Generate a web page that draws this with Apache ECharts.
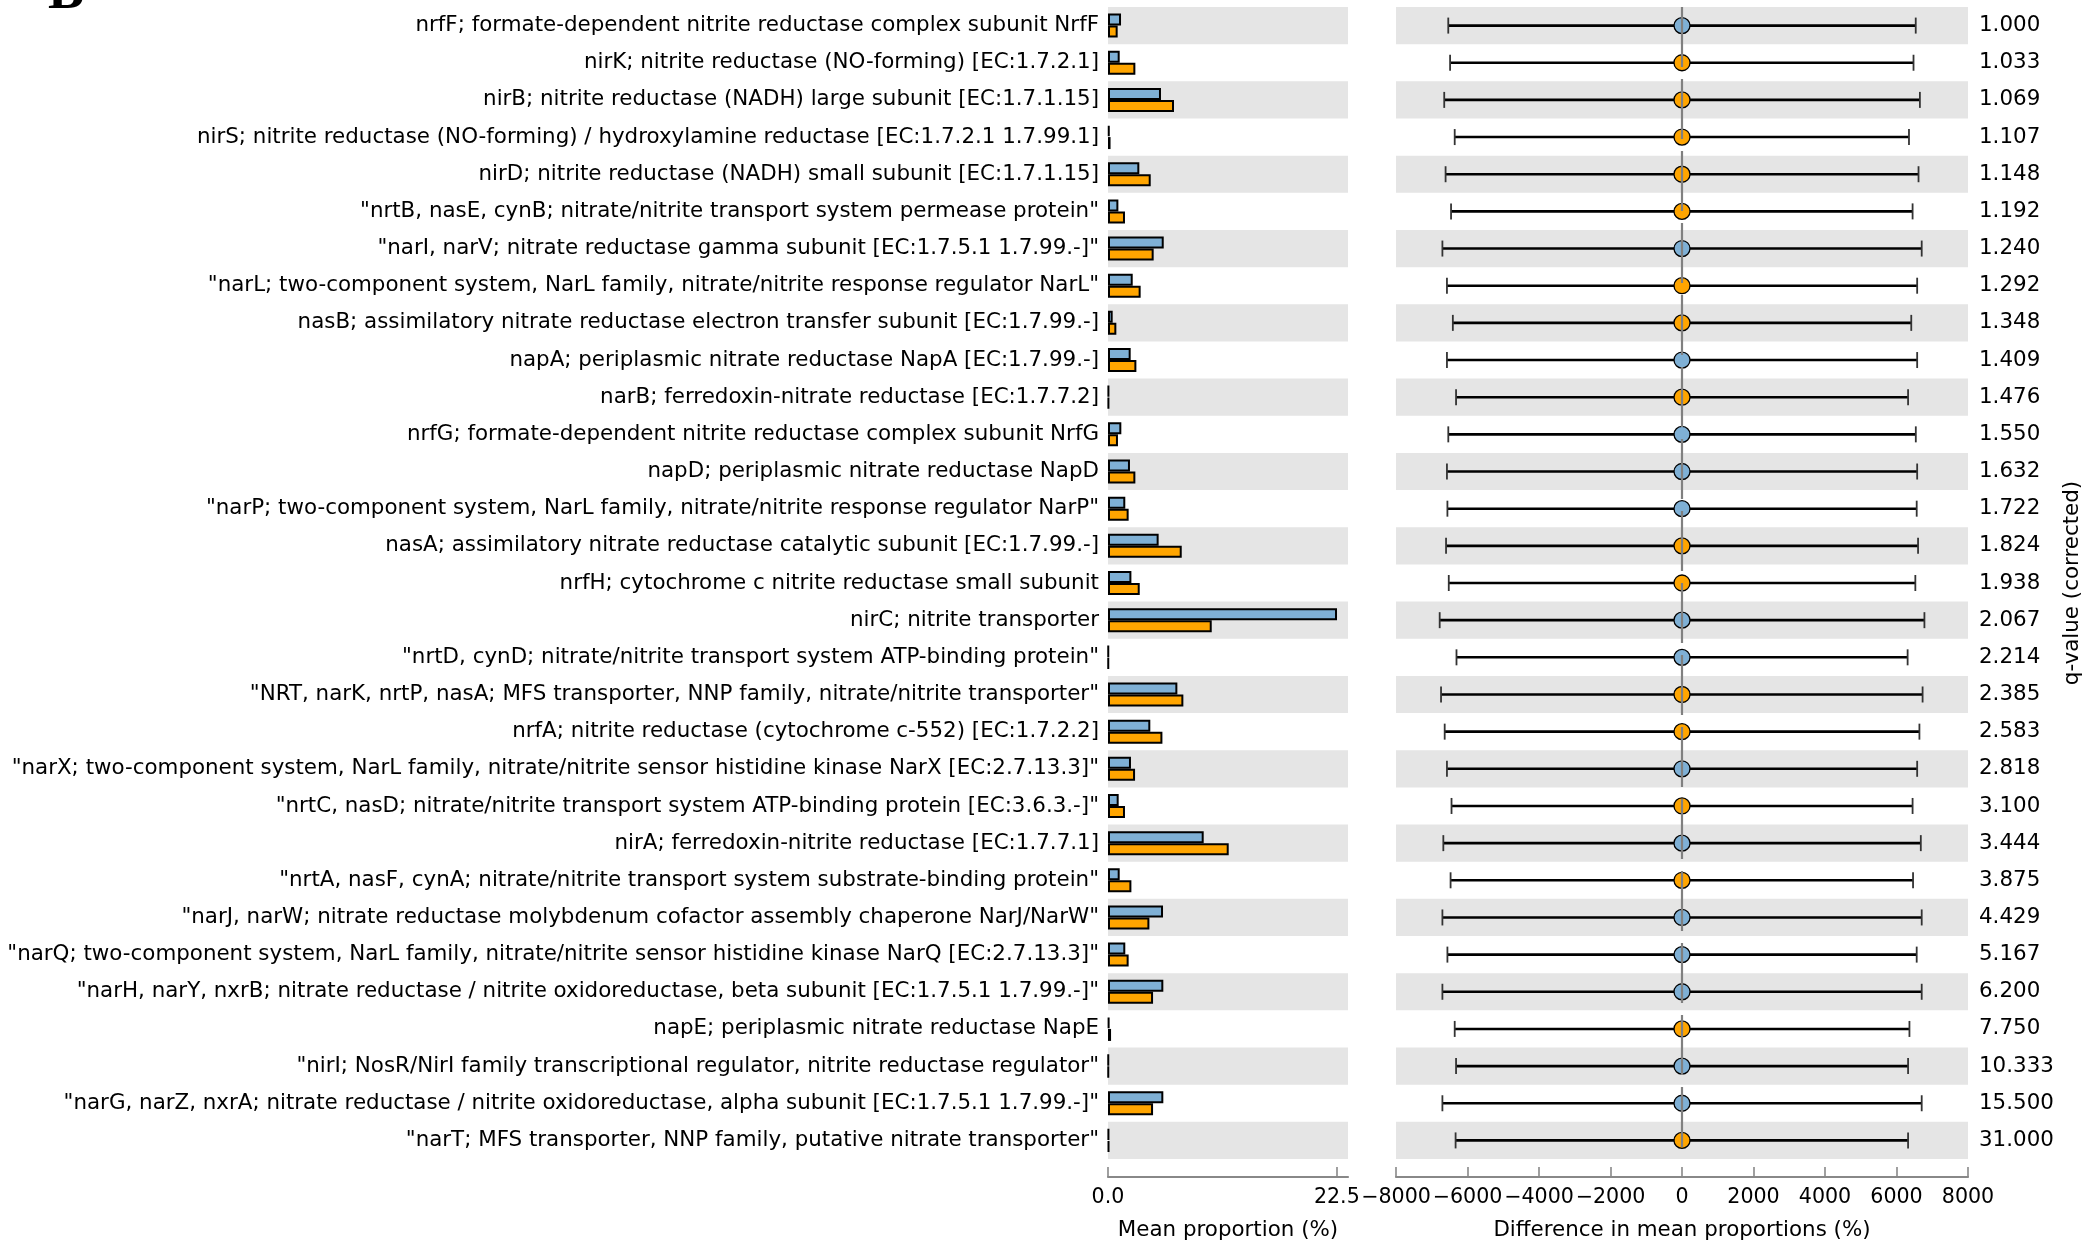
<!DOCTYPE html>
<html><head><meta charset="utf-8">
<script src="https://cdn.jsdelivr.net/npm/echarts@6/dist/echarts.min.js"></script>
<style>html,body{margin:0;padding:0;background:#fff}#c{width:2093px;height:1246px}</style>
</head><body><div id="c"></div>
<script>
const categories = [
  'nrfF; formate-dependent nitrite reductase complex subunit NrfF',
  'nirK; nitrite reductase (NO-forming) [EC:1.7.2.1]',
  'nirB; nitrite reductase (NADH) large subunit [EC:1.7.1.15]',
  'nirS; nitrite reductase (NO-forming) / hydroxylamine reductase [EC:1.7.2.1 1.7.99.1]',
  'nirD; nitrite reductase (NADH) small subunit [EC:1.7.1.15]',
  '"nrtB, nasE, cynB; nitrate/nitrite transport system permease protein"',
  '"narI, narV; nitrate reductase gamma subunit [EC:1.7.5.1 1.7.99.-]"',
  '"narL; two-component system, NarL family, nitrate/nitrite response regulator NarL"',
  'nasB; assimilatory nitrate reductase electron transfer subunit [EC:1.7.99.-]',
  'napA; periplasmic nitrate reductase NapA [EC:1.7.99.-]',
  'narB; ferredoxin-nitrate reductase [EC:1.7.7.2]',
  'nrfG; formate-dependent nitrite reductase complex subunit NrfG',
  'napD; periplasmic nitrate reductase NapD',
  '"narP; two-component system, NarL family, nitrate/nitrite response regulator NarP"',
  'nasA; assimilatory nitrate reductase catalytic subunit [EC:1.7.99.-]',
  'nrfH; cytochrome c nitrite reductase small subunit',
  'nirC; nitrite transporter',
  '"nrtD, cynD; nitrate/nitrite transport system ATP-binding protein"',
  '"NRT, narK, nrtP, nasA; MFS transporter, NNP family, nitrate/nitrite transporter"',
  'nrfA; nitrite reductase (cytochrome c-552) [EC:1.7.2.2]',
  '"narX; two-component system, NarL family, nitrate/nitrite sensor histidine kinase NarX [EC:2.7.13.3]"',
  '"nrtC, nasD; nitrate/nitrite transport system ATP-binding protein [EC:3.6.3.-]"',
  'nirA; ferredoxin-nitrite reductase [EC:1.7.7.1]',
  '"nrtA, nasF, cynA; nitrate/nitrite transport system substrate-binding protein"',
  '"narJ, narW; nitrate reductase molybdenum cofactor assembly chaperone NarJ/NarW"',
  '"narQ; two-component system, NarL family, nitrate/nitrite sensor histidine kinase NarQ [EC:2.7.13.3]"',
  '"narH, narY, nxrB; nitrate reductase / nitrite oxidoreductase, beta subunit [EC:1.7.5.1 1.7.99.-]"',
  'napE; periplasmic nitrate reductase NapE',
  '"nirI; NosR/NirI family transcriptional regulator, nitrite reductase regulator"',
  '"narG, narZ, nxrA; nitrate reductase / nitrite oxidoreductase, alpha subunit [EC:1.7.5.1 1.7.99.-]"',
  '"narT; MFS transporter, NNP family, putative nitrate transporter"'
];
const qValues = ['1.000','1.033','1.069','1.107','1.148','1.192','1.240','1.292','1.348','1.409','1.476',
  '1.550','1.632','1.722','1.824','1.938','2.067','2.214','2.385','2.583','2.818','3.100',
  '3.444','3.875','4.429','5.167','6.200','7.750','10.333','15.500','31.000'];
// mean proportion (%) group 1 (blue) and group 2 (orange)
const group1Mean = [1.28,1.15,5.21,0.15,3.08,1.02,5.48,2.43,0.46,2.23,0.08,
  1.31,2.16,1.70,4.98,2.30,22.52,0.05,6.82,4.16,2.26,1.05,
  9.41,1.15,5.41,1.70,5.44,0.12,0.05,5.44,0.08];
const group2Mean = [0.95,2.69,6.49,0.25,4.20,1.67,4.49,3.21,0.82,2.79,0.08,
  0.98,2.69,2.03,7.25,3.12,10.20,0.05,7.41,5.35,2.66,1.67,
  11.87,2.30,4.07,2.03,4.43,0.30,0.05,4.43,0.10];
// difference in mean proportions (%) and its confidence interval
const meanDiff = [0,0,0,0,0,0,0,0,0,0,0, 0,0,0,0,0,0,0,0,0,0,0, 0,0,0,0,0,0,0,0,0];
const ciLower = [-6538,-6487,-6651,-6358,-6613,-6460,-6702,-6575,-6410,-6575,-6320,
  -6537,-6575,-6562,-6600,-6524,-6778,-6308,-6740,-6638,-6575,-6447,
  -6676,-6473,-6702,-6562,-6702,-6358,-6320,-6702,-6333];
const ciUpper = [6538,6476,6654,6349,6616,6450,6705,6578,6413,6578,6324,
  6540,6578,6565,6603,6527,6781,6311,6730,6641,6578,6450,
  6680,6463,6705,6565,6705,6362,6324,6705,6324];
// group with the higher mean (1 = blue, 2 = orange)
const higherGroup = [1,2,2,2,2,2,1,2,2,1,2, 1,1,1,2,2,1,1,2,2,1,2, 1,2,1,1,1,2,1,1,2];
const meanTicks = [0, 22.5];

const BLUE = '#7fb0d5', ORANGE = '#ffa500';
const FONT = 'DejaVu Sans';
const AXIS_GRAY = '#888888';

const chart = echarts.init(document.getElementById('c'), null, {renderer: 'canvas'});
const txt = {color: '#000', fontFamily: FONT, fontSize: 21.4};
const tickTxt = {color: '#000', fontFamily: FONT, fontSize: 20.6};

chart.setOption({
  animation: false,
  backgroundColor: '#fff',
  graphic: [{
    type: 'text', left: 48, top: -33,
    style: {text: 'B', font: 'bold 54px "Liberation Serif"', fill: '#000'}
  }],
  grid: [
    {left: 1108, top: 7, width: 240, height: 1155},
    {left: 1396, top: 7, width: 572, height: 1155}
  ],
  xAxis: [
    {gridIndex: 0, type: 'value', min: 0, max: 23.6, offset: 18,
     axisLine: {show: true, lineStyle: {color: AXIS_GRAY, width: 2.2}},
     axisTick: {show: true, inside: true, length: 10, customValues: meanTicks, lineStyle: {color: AXIS_GRAY, width: 1.6}},
     axisLabel: Object.assign({customValues: meanTicks, margin: 10, hideOverlap: false, formatter: v => Number(v).toFixed(1)}, tickTxt),
     splitLine: {show: false},
     name: 'Mean proportion (%)', nameLocation: 'middle', nameGap: 43, nameTextStyle: txt},
    {gridIndex: 1, type: 'value', min: -8000, max: 8000, interval: 2000, offset: 18,
     axisLine: {show: true, lineStyle: {color: AXIS_GRAY, width: 2.2}},
     axisTick: {show: true, inside: true, length: 10, lineStyle: {color: AXIS_GRAY, width: 1.6}},
     axisLabel: Object.assign({margin: 10, showMinLabel: true, showMaxLabel: true, hideOverlap: false,
       formatter: v => String(v).replace('-', '\u2212')}, tickTxt),
     splitLine: {show: false},
     name: 'Difference in mean proportions (%)', nameLocation: 'middle', nameGap: 43, nameTextStyle: txt}
  ],
  yAxis: [
    {gridIndex: 0, type: 'category', data: categories, inverse: true,
     axisLine: {show: false}, axisTick: {show: false},
     axisLabel: Object.assign({margin: 9, interval: 0}, txt),
     splitLine: {show: false},
     splitArea: {show: true, interval: 0, areaStyle: {color: ['#e5e5e5', 'rgba(0,0,0,0)']}}},
    {gridIndex: 1, type: 'category', data: qValues, inverse: true, position: 'right',
     axisLine: {show: false}, axisTick: {show: false},
     axisLabel: Object.assign({margin: 11, interval: 0, align: 'left'}, txt),
     splitLine: {show: false},
     splitArea: {show: true, interval: 0, areaStyle: {color: ['#e5e5e5', 'rgba(0,0,0,0)']}},
     name: 'q-value (corrected)', nameLocation: 'middle', nameRotate: 90, nameGap: 94, nameTextStyle: txt}
  ],
  series: [
    {type: 'bar', xAxisIndex: 0, yAxisIndex: 0, data: group1Mean, barWidth: 12, barGap: '0%',
     itemStyle: {color: BLUE, borderColor: '#000', borderWidth: 2}},
    {type: 'bar', xAxisIndex: 0, yAxisIndex: 0, data: group2Mean, barWidth: 12, barGap: '0%',
     itemStyle: {color: ORANGE, borderColor: '#000', borderWidth: 2}},
    {type: 'scatter', xAxisIndex: 1, yAxisIndex: 1, data: [[0, 0]], symbolSize: 0, z: 1, silent: true,
     markLine: {silent: true, symbol: 'none', label: {show: false},
       lineStyle: {color: '#808080', width: 2.2, type: [60, 12]}, data: [{xAxis: 0}]}},
    {type: 'custom', xAxisIndex: 1, yAxisIndex: 1, z: 2,
     data: categories.map((c, i) => [ciLower[i], ciUpper[i], i]),
     encode: {x: [0, 1], y: 2},
     renderItem: function (params, api) {
       const lo = api.coord([api.value(0), api.value(2)]);
       const hi = api.coord([api.value(1), api.value(2)]);
       const h = 8;
       return {type: 'group', children: [
         {type: 'line', shape: {x1: lo[0], y1: lo[1], x2: hi[0], y2: hi[1]}, style: {stroke: '#000', lineWidth: 2.6}},
         {type: 'line', shape: {x1: lo[0], y1: lo[1] - h, x2: lo[0], y2: lo[1] + h}, style: {stroke: '#333', lineWidth: 1.8}},
         {type: 'line', shape: {x1: hi[0], y1: hi[1] - h, x2: hi[0], y2: hi[1] + h}, style: {stroke: '#333', lineWidth: 1.8}}
       ]};
     }},
    {type: 'scatter', xAxisIndex: 1, yAxisIndex: 1, z: 3, symbolSize: 16,
     data: meanDiff.map((d, i) => ({value: [d, i], itemStyle: {color: higherGroup[i] === 1 ? BLUE : ORANGE}})),
     itemStyle: {borderColor: '#000', borderWidth: 1.3, opacity: 1}}
  ]
});
</script>
</body></html>
